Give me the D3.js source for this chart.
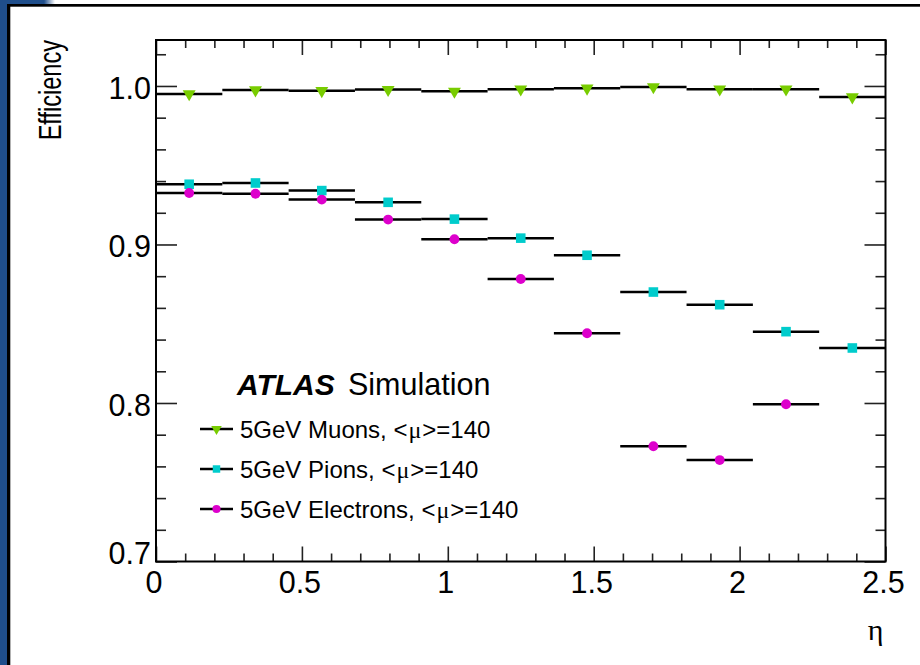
<!DOCTYPE html>
<html><head><meta charset="utf-8">
<script src="https://cdn.jsdelivr.net/npm/d3@7"></script>
<style>
body{margin:0;background:#fff;overflow:hidden}
svg{display:block}
text{font-family:"Liberation Sans",Arial,Helvetica,sans-serif;fill:#000}
.greek{font-family:"Liberation Serif","Times New Roman",serif}
</style>
</head><body>
<svg id="c" width="920" height="665"></svg>
<script>
// ---- data ----
const binEdges = [0, 0.2273, 0.4545, 0.6818, 0.9091, 1.1364, 1.3636, 1.5909, 1.8182, 2.0455, 2.2727, 2.5];
const muons     = [0.995, 0.9975, 0.997, 0.9977, 0.9966, 0.998, 0.9985, 0.9994, 0.998, 0.998, 0.993];
const pions     = [0.938, 0.9388, 0.934, 0.9266, 0.916, 0.904, 0.8932, 0.870, 0.862, 0.845, 0.8347];
const electrons = [0.9325, 0.932, 0.9283, 0.9157, 0.9033, 0.8782, 0.844, 0.7727, 0.764, 0.7992, null];
const seriesPrefix = ["5GeV Muons, <", "5GeV Pions, <", "5GeV Electrons, <"];
const seriesSuffix = ">=140";
const xMajorTicks = [0, 0.5, 1, 1.5, 2, 2.5];
const xTickLabels = ["0", "0.5", "1", "1.5", "2", "2.5"];
const yMajorTicks = [0.7, 0.8, 0.9, 1.0];
const yTickLabels = ["0.7", "0.8", "0.9", "1.0"];
const xMinorTicks = [0.1,0.2,0.3,0.4,0.6,0.7,0.8,0.9,1.1,1.2,1.3,1.4,1.6,1.7,1.8,1.9,2.1,2.2,2.3,2.4];
const yMinorTicks = [0.72,0.74,0.76,0.78,0.82,0.84,0.86,0.88,0.92,0.94,0.96,0.98,1.02];

// ---- style ----
const colors = ["#78cc00", "#00cccc", "#dd00cc"];
const shapes = [d3.symbolTriangle, d3.symbolSquare, d3.symbolCircle];
const markerSize = [72, 92, 76];
const legendMarkerSize = [48, 56, 52];

const svg = d3.select("#c");

// page decoration (blue slide border)
const defs = svg.append("defs");
const g1 = defs.append("linearGradient").attr("id","tl").attr("x1","0").attr("x2","1");
g1.append("stop").attr("offset","0").attr("stop-color","#1f4e8b");
g1.append("stop").attr("offset","0.8").attr("stop-color","#1f4e8b");
g1.append("stop").attr("offset","1").attr("stop-color","#ffffff");
svg.append("rect").attr("x",0).attr("y",0).attr("width",7.5).attr("height",665).attr("fill","#1f4e8b");
svg.append("rect").attr("x",0).attr("y",0).attr("width",55).attr("height",4.5).attr("fill","url(#tl)");
svg.append("rect").attr("x",7).attr("y",4).attr("width",3.3).attr("height",661).attr("fill","#000");
svg.append("rect").attr("x",7).attr("y",4).attr("width",913).attr("height",2.7).attr("fill","#000");

const L = 156, R = 885.5, T = 40, B = 561.5;
const x = d3.scaleLinear().domain([0, 2.5]).range([L, R]);
const y = d3.scaleLinear().domain([0.7, 1.029]).range([B, T]);

// ticks
function ticks(axisGen, transform, vals, size) {
  const g = svg.append("g").attr("transform", transform)
    .call(axisGen.tickValues(vals).tickSize(size).tickFormat(""));
  g.select(".domain").remove();
  g.selectAll("line").attr("stroke","#222").attr("stroke-width",1.6);
}
ticks(d3.axisBottom(x), `translate(0,${B})`, xMajorTicks, -15);
ticks(d3.axisBottom(x), `translate(0,${B})`, xMinorTicks, -8);
ticks(d3.axisTop(x), `translate(0,${T})`, xMajorTicks, -15);
ticks(d3.axisTop(x), `translate(0,${T})`, xMinorTicks, -8);
ticks(d3.axisLeft(y), `translate(${L},0)`, yMajorTicks, -21);
ticks(d3.axisLeft(y), `translate(${L},0)`, yMinorTicks, -10);
ticks(d3.axisRight(y), `translate(${R},0)`, yMajorTicks, -21);
ticks(d3.axisRight(y), `translate(${R},0)`, yMinorTicks, -10);

// frame
svg.append("rect").attr("x",L).attr("y",T).attr("width",R-L).attr("height",B-T)
  .attr("fill","none").attr("stroke","#000").attr("stroke-width",2);

// tick labels
svg.append("g").selectAll("text").data(xMajorTicks).join("text")
  .attr("x", d => x(d) - 2).attr("y", B + 31)
  .attr("text-anchor","middle").attr("font-size",30.5)
  .text((d,i) => xTickLabels[i]);
svg.append("g").selectAll("text").data(yMajorTicks).join("text")
  .attr("x", L - 5).attr("y", d => d === 0.7 ? y(d) - 8 : y(d) + 2)
  .attr("dy","0.35em")
  .attr("text-anchor","end").attr("font-size",30.5)
  .text((d,i) => yTickLabels[i]);

// axis titles
svg.append("text").attr("transform",`translate(61,${T}) rotate(-90) scale(0.76,1)`)
  .attr("text-anchor","end").attr("font-size",31).text("Efficiency");
svg.append("text").attr("class","greek").attr("x", R - 2).attr("y", 640).attr("text-anchor","end")
  .attr("font-size",30).text("\u03b7");

// data
const allSeries = [muons, pions, electrons];
allSeries.forEach((vals, si) => {
  const pts = vals.map((v,i) => ({v, lo: binEdges[i], hi: binEdges[i+1]})).filter(p => p.v !== null);
  const g = svg.append("g");
  g.selectAll("line").data(pts).join("line")
    .attr("x1", d => x(d.lo)).attr("x2", d => x(d.hi))
    .attr("y1", d => y(d.v)).attr("y2", d => y(d.v))
    .attr("stroke","#000").attr("stroke-width",2.5);
  g.selectAll("path").data(pts).join("path")
    .attr("transform", d => `translate(${x((d.lo+d.hi)/2)},${y(d.v)})` + (si===0 ? " rotate(180)" : ""))
    .attr("d", d3.symbol().type(shapes[si]).size(markerSize[si]))
    .attr("fill", colors[si]);
});

// ATLAS label
svg.append("text").attr("x",237).attr("y",395).attr("font-size",30)
  .attr("font-weight","bold").attr("font-style","italic").text("ATLAS");
svg.append("text").attr("x",348).attr("y",395).attr("font-size",30.5).text("Simulation");

// legend
const legY = [429, 469, 509];
seriesPrefix.forEach((name, i) => {
  const g = svg.append("g").attr("transform", `translate(0,${legY[i]})`);
  g.append("line").attr("x1",200).attr("x2",233).attr("y1",0).attr("y2",0)
    .attr("stroke","#000").attr("stroke-width",2.5);
  g.append("path").attr("transform", `translate(216.5,0)` + (i===0 ? " rotate(180)" : ""))
    .attr("d", d3.symbol().type(shapes[i]).size(legendMarkerSize[i])).attr("fill", colors[i]);
  const t = g.append("text").attr("x",240).attr("y",8.5).attr("font-size",24);
  t.append("tspan").text(name);
  t.append("tspan").attr("class","greek").attr("dx",1).text("\u03bc");
  t.append("tspan").attr("dx",1).text(seriesSuffix);
});
</script>
</body></html>
